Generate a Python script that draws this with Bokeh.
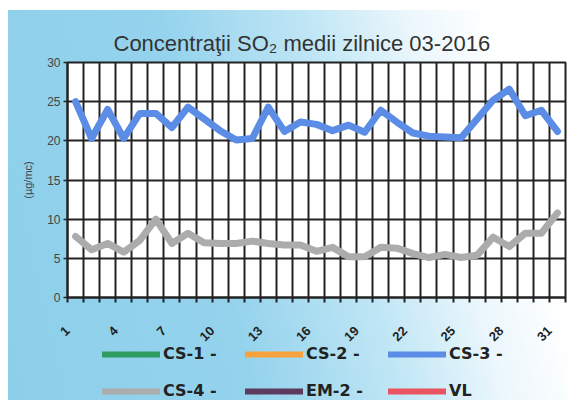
import math
from bokeh.plotting import figure
from bokeh.layouts import column
from bokeh.models import FixedTicker, Legend, LegendItem, Range1d
from bokeh.embed import file_html
from bokeh.resources import INLINE

# ---- data ----
days = list(range(1, 32))
label_days = [1, 4, 7, 10, 13, 16, 19, 22, 25, 28, 31]
y_ticks = [0, 5, 10, 15, 20, 25, 30]

cs1 = []
cs2 = []
cs3 = [25.0, 20.3, 24.0, 20.3, 23.5, 23.5, 21.7, 24.3, 22.8, 21.3, 20.1,
       20.3, 24.3, 21.2, 22.4, 22.1, 21.3, 22.0, 21.1, 23.9, 22.4, 21.0,
       20.6, 20.5, 20.4, 22.8, 25.2, 26.6, 23.2, 23.9, 21.2]
cs4 = [7.8, 6.1, 6.9, 5.8, 7.3, 10.0, 6.9, 8.2, 7.0, 6.9, 6.9, 7.2, 6.9,
       6.7, 6.7, 5.9, 6.4, 5.2, 5.2, 6.4, 6.3, 5.6, 5.1, 5.5, 5.1, 5.4,
       7.7, 6.5, 8.2, 8.2, 10.8]
em2 = []
vl = []

series_names = ["CS-1 -", "CS-2 -", "CS-3 -", "CS-4 -", "EM-2 -", "VL"]
series_colors = ["#2f9d62", "#f7a23e", "#5b8de6", "#acacac", "#5c3b5e", "#ea5461"]

FONT = "Liberation Sans"
GRADIENT = "linear-gradient(76deg, #8dcfea 0%, #95d3ed 38%, #c0e6f5 60%, #ecf7fc 76%, #ffffff 88%)"

# category boundaries (gridlines / ticks)
bounds = [d - 0.5 for d in days] + [days[-1] + 0.5]

p = figure(width=559, height=354,
           x_range=Range1d(bounds[0], bounds[-1]), y_range=Range1d(0, 30),
           output_backend="svg", toolbar_location=None,
           min_border_left=59, min_border_right=2,
           min_border_top=52, min_border_bottom=67,
           background_fill_color="white", border_fill_alpha=0)

p.title.text = "Concentraţii SO₂ medii zilnice 03-2016"
p.title.text_font = FONT
p.title.text_font_size = "22px"
p.title.text_font_style = "normal"
p.title.text_color = "#333333"
p.title.align = "left"
p.title.offset = 46
p.title.standoff = 13

p.outline_line_color = "#222222"
p.outline_line_width = 2

# x axis
xa = p.xaxis[0]
xa.ticker = FixedTicker(ticks=bounds)
overrides = {}
for b in bounds:
    overrides[b] = ""
for d in label_days:
    overrides[d - 0.5] = str(d)
xa.major_label_overrides = overrides
xa.major_label_orientation = math.pi / 4
xa.major_label_text_font = FONT
xa.major_label_text_font_size = "13px"
xa.major_label_text_font_style = "bold"
xa.major_label_text_color = "#222222"
xa.major_label_standoff = 26
xa.major_tick_out = 5
xa.major_tick_in = 0
xa.major_tick_line_color = "#222222"
xa.major_tick_line_width = 2
xa.minor_tick_line_color = None
xa.axis_line_color = "#222222"
xa.axis_line_width = 2

# y axis
ya = p.yaxis[0]
ya.ticker = FixedTicker(ticks=y_ticks)
ya.major_label_text_font = FONT
ya.major_label_text_font_size = "12px"
ya.major_label_text_color = "#444444"
ya.major_label_standoff = 3
ya.major_tick_out = 4
ya.major_tick_in = 0
ya.major_tick_line_color = "#222222"
ya.major_tick_line_width = 1.5
ya.minor_tick_line_color = None
ya.axis_line_color = "#222222"
ya.axis_line_width = 2
ya.axis_label = "(µg/mc)"
ya.axis_label_text_font = FONT
ya.axis_label_text_font_size = "11px"
ya.axis_label_text_font_style = "normal"
ya.axis_label_text_color = "#444444"
ya.axis_label_standoff = 10

# grid
p.xgrid.ticker = FixedTicker(ticks=bounds)
p.ygrid.ticker = FixedTicker(ticks=y_ticks)
for g in (p.xgrid[0], p.ygrid[0]):
    g.grid_line_color = "#222222"
    g.grid_line_width = 2
    g.grid_line_alpha = 1

# series lines
all_series = [cs1, cs2, cs3, cs4, em2, vl]
for vals, col in zip(all_series, series_colors):
    p.line(x=days[:len(vals)], y=vals, line_color=col, line_width=7,
           line_join="round", line_cap="round")

# legend strip below the chart (same series colours)
leg = figure(width=559, height=56, output_backend="svg", toolbar_location=None,
             x_axis_type=None, y_axis_type=None,
             x_range=Range1d(0, 1), y_range=Range1d(0, 1),
             min_border=0, min_border_left=0, min_border_right=0,
             min_border_top=0, min_border_bottom=0,
             background_fill_alpha=0, border_fill_alpha=0,
             outline_line_color=None)
leg.margin = (-20, 0, 0, 0)
leg.grid.visible = False
items = []
for name, col in zip(series_names, series_colors):
    r = leg.line(x=[float("nan")], y=[float("nan")], line_color=col, line_width=6,
                 line_cap="round")
    items.append(LegendItem(label=name, renderers=[r]))

legend = Legend(items=items, orientation="horizontal", ncols=3,
                location=(35, 0), glyph_width=58, glyph_height=16,
                label_standoff=3, spacing=18, label_width=64, label_height=16,
                label_text_font="DejaVu Sans", label_text_font_size="16px",
                label_text_font_style="bold", label_text_color="#222222",
                padding=0, margin=0, background_fill_alpha=0,
                border_line_alpha=0)
leg.add_layout(legend, "center")

layout = column(p, leg, spacing=0, margin=(10, 0, 0, 8),
                styles={"background": GRADIENT})

open("out.html", "w").write(file_html(layout, INLINE))
